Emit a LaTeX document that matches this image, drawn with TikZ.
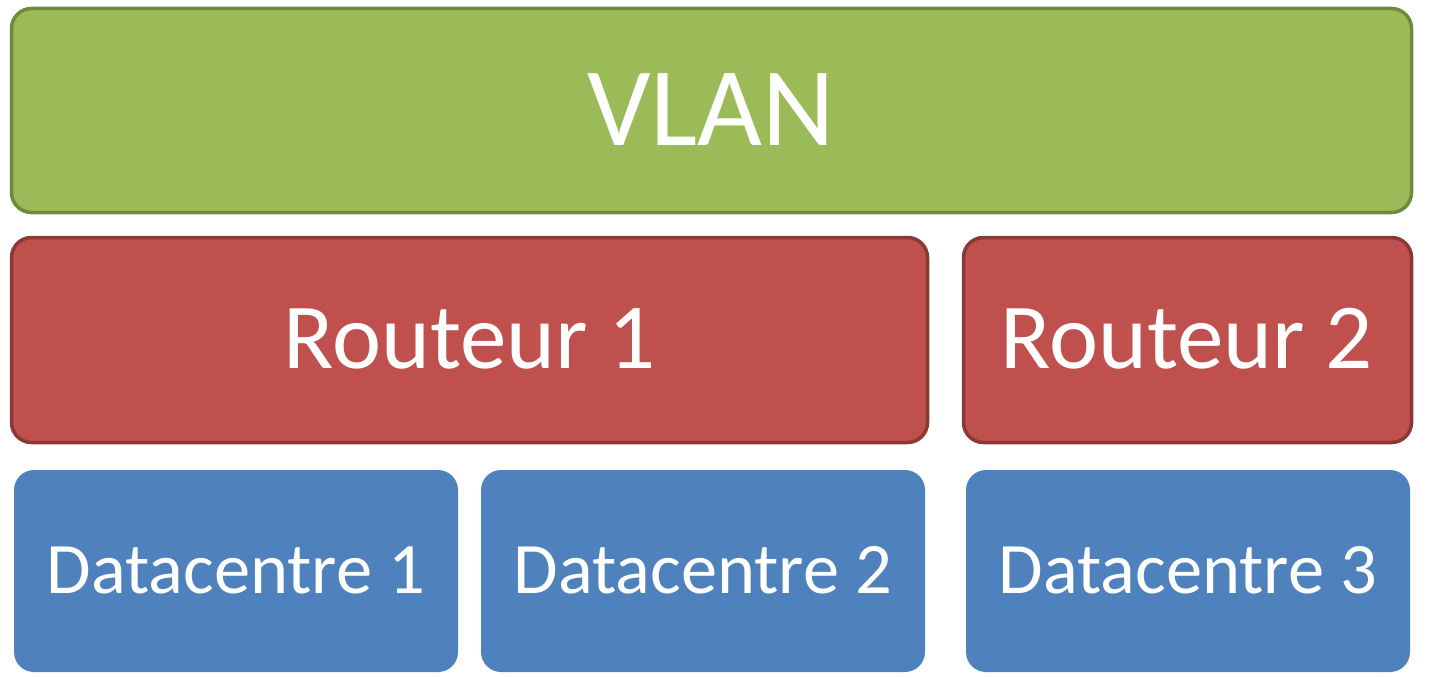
\documentclass[tikz,border=0pt]{standalone}
\usepackage{fontspec}
\setmainfont{Carlito}
\definecolor{vfill}{HTML}{9BBB59}
\definecolor{vdraw}{HTML}{71893F}
\definecolor{rfill}{HTML}{C0504D}
\definecolor{rdraw}{HTML}{8C3836}
\definecolor{dfill}{HTML}{4F81BD}
\begin{document}
\begin{tikzpicture}[x=1pt,y=-1pt,
  boxv/.style={fill=vfill,draw=vdraw,line width=3.5pt,rounded corners=20pt},
  boxr/.style={fill=rfill,draw=rdraw,line width=3.5pt,rounded corners=20pt},
  boxd/.style={fill=dfill,rounded corners=20pt},
  lbl/.style={text=white,inner sep=0pt,anchor=base}]
\useasboundingbox (0,0) rectangle (1434,677);
\draw[boxv] (11.5,8.5) rectangle (1411.5,212.5);
\draw[boxr] (11.5,237.5) rectangle (927.5,442.5);
\draw[boxr] (963.5,237.5) rectangle (1411.5,442.5);
\fill[boxd] (14,470) rectangle (458,672);
\fill[boxd] (481,470) rectangle (925,672);
\fill[boxd] (966,470) rectangle (1410,672);
\node[lbl,font=\fontsize{112}{116}\selectfont] (vlan) at (711,145) {VLAN};
\node[lbl,font=\fontsize{93}{96}\selectfont] (r1) at (470,368) {Routeur 1};
\node[lbl,font=\fontsize{93}{96}\selectfont] (r2) at (1187,368) {Routeur 2};
\node[lbl,font=\fontsize{72.5}{76}\selectfont] (d1) at (236,593) {Datacentre 1};
\node[lbl,font=\fontsize{72.5}{76}\selectfont] (d2) at (703,593) {Datacentre 2};
\node[lbl,font=\fontsize{72.5}{76}\selectfont] (d3) at (1188,593) {Datacentre 3};
\end{tikzpicture}
\end{document}
